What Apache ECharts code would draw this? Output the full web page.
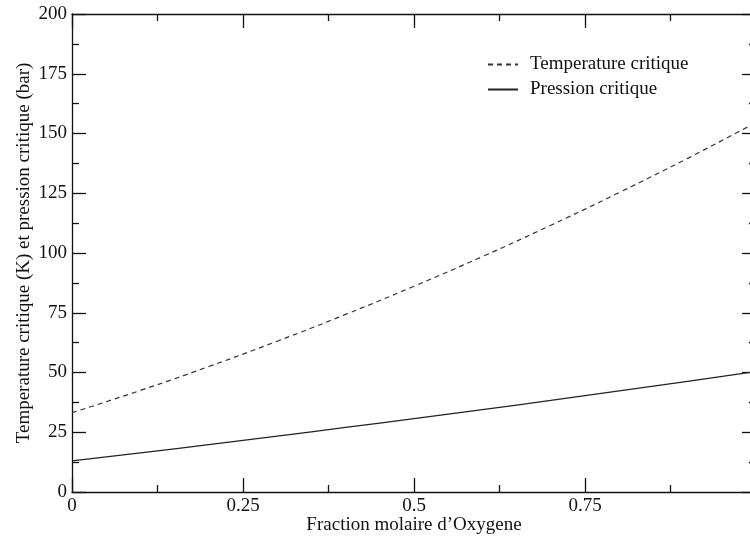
<!DOCTYPE html>
<html lang="fr">
<head>
    <meta charset="UTF-8">
    <title>Temperature et pression critique</title>
    <script src="https://cdn.jsdelivr.net/npm/echarts@6/dist/echarts.min.js"></script>
</head>
<body style="margin:0">
<div id="main" style="width: 750px;height:537px;"></div>
</body>
<script type="text/javascript">
    // fraction molaire d'oxygene
    var fraction = [0, 0.1, 0.2, 0.3, 0.4, 0.5, 0.6, 0.7, 0.8, 0.9, 1.0];
    // valeurs
    var tempCritique = [33.2, 42.5, 52.5, 63.1, 74.3, 86.1, 98.5, 111.6, 125.3, 139.6, 154.6];
    var pressCritique = [13.0, 16.4, 19.8, 23.4, 27.0, 30.7, 34.5, 38.3, 42.3, 46.3, 50.4];

    var nomTemp = 'Temperature critique';
    var nomPress = 'Pression critique';

    function paires(xs, ys) {
        return xs.map(function (x, i) { return [x, ys[i]]; });
    }

    var police = 'Liberation Serif';
    var trait = {color: '#111', width: 1.3};
    var axeLigne = {onZero: false, lineStyle: trait};
    var graduation = {inside: true, length: 14, lineStyle: trait};
    var sousGraduation = {show: true, splitNumber: 2, length: 7, lineStyle: trait};

    var myChart = echarts.init(document.getElementById('main'));

    var option = {
        animation: false,
        backgroundColor: '#fff',
        textStyle: {fontFamily: police, color: '#111'},
        grid: {left: 72, top: 14, width: 684, height: 478, outerBoundsMode: 'none', containLabel: false},
        legend: {
            orient: 'vertical',
            left: 482,
            top: 50,
            itemWidth: 30,
            itemHeight: 14,
            itemGap: 6,
            itemStyle: {opacity: 0},
            textStyle: {fontFamily: police, fontSize: 19, color: '#111', padding: [0, 0, 0, 7]},
            data: [nomTemp, nomPress]
        },
        xAxis: [{
            type: 'value',
            min: 0,
            max: 1,
            interval: 0.25,
            name: 'Fraction molaire d’Oxygene',
            nameLocation: 'middle',
            nameGap: 24,
            nameMoveOverlap: false,
            nameTextStyle: {fontFamily: police, fontSize: 19, color: '#111'},
            axisLine: axeLigne,
            axisTick: graduation,
            minorTick: sousGraduation,
            axisLabel: {fontFamily: police, fontSize: 19, color: '#111', margin: 5},
            splitLine: {show: false}
        }, {
            type: 'value',
            position: 'top',
            min: 0,
            max: 1,
            interval: 0.25,
            axisLine: axeLigne,
            axisTick: graduation,
            minorTick: sousGraduation,
            axisLabel: {show: false},
            splitLine: {show: false}
        }],
        yAxis: [{
            type: 'value',
            min: 0,
            max: 200,
            interval: 25,
            name: 'Temperature critique (K) et pression critique (bar)',
            nameLocation: 'middle',
            nameGap: 38,
            nameMoveOverlap: false,
            nameTextStyle: {fontFamily: police, fontSize: 19, color: '#111'},
            axisLine: axeLigne,
            axisTick: graduation,
            minorTick: sousGraduation,
            axisLabel: {fontFamily: police, fontSize: 19, color: '#111', margin: 5},
            splitLine: {show: false}
        }, {
            type: 'value',
            position: 'right',
            min: 0,
            max: 200,
            interval: 25,
            axisLine: axeLigne,
            axisTick: graduation,
            minorTick: sousGraduation,
            axisLabel: {show: false},
            splitLine: {show: false}
        }],
        series: [{
            name: nomTemp,
            type: 'line',
            smooth: true,
            symbol: 'none',
            color: '#222',
            lineStyle: {color: '#333', width: 1.2, type: [5, 4]},
            data: paires(fraction, tempCritique)
        }, {
            name: nomPress,
            type: 'line',
            smooth: true,
            symbol: 'none',
            color: '#222',
            lineStyle: {color: '#222', width: 1.3},
            data: paires(fraction, pressCritique)
        }]
    };

    myChart.setOption(option);
</script>
</html>
